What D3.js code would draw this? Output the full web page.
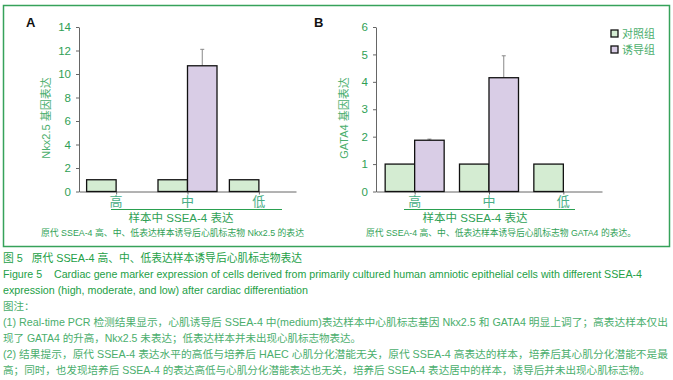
<!DOCTYPE html>
<html lang="zh">
<head>
  <meta charset="UTF-8">
  <title>Figure 5 SSEA-4 Nkx2.5 GATA4</title>
  <script src="https://d3js.org/d3.v7.min.js"></script>
  <style>
    body { margin: 0; background: #fff; }
    svg { display: block; font-family: "Liberation Sans", Arial, "Noto Sans CJK SC", sans-serif; }
    .axis path, .axis line { stroke: #666; }
    .axis text { fill: #2f9f55; font-size: 11.5px; }
    .note { fill: #4aae6c; font-size: 10.5px; white-space: pre; }
    .cap { fill: #23a046; font-size: 11px; white-space: pre; }
  </style>
</head>
<body>
<svg id="chart" width="673" height="380"></svg>
<script>
  // data
  const categories = ["高", "中", "低"];
  const nkxControl = [1, 1, 1];
  const nkxInduced = [0, 10.7, 0];
  const nkxError = [0, 1.4, 0];
  const gataControl = [1, 1, 1];
  const gataInduced = [1.87, 4.15, 0];
  const gataError = [0.04, 0.8, 0];
  const nkxTicks = [0, 2, 4, 6, 8, 10, 12, 14];
  const gataTicks = [0, 1, 2, 3, 4, 5, 6];
  const legendLabels = ["对照组", "诱导组"];

  const controlFill = "#d4ecd2";
  const inducedFill = "#d9cde6";
  const green = "#2f9f55";

  const svg = d3.select("#chart");

  // outer frame
  svg.append("rect")
    .attr("x", 3.5).attr("y", 5.5)
    .attr("width", 666).attr("height", 241)
    .attr("fill", "none").attr("stroke", "#36a25a").attr("stroke-width", 1.5);

  function panel(opt) {
    const g = svg.append("g");
    const y = d3.scaleLinear().domain([0, opt.max]).range([191.5, 27]);
    const x = d3.scalePoint().domain(categories).range([opt.x0, opt.x1]).padding(0.52);
    const bw = 29.5;

    g.append("g").attr("class", "axis")
      .attr("transform", `translate(${opt.x0},0)`)
      .call(d3.axisLeft(y).tickValues(opt.ticks).tickFormat(d3.format("d"))
        .tickSize(3).tickPadding(5).tickSizeOuter(0));
    g.append("g").attr("class", "axis")
      .attr("transform", "translate(0,191.5)")
      .call(d3.axisBottom(x).tickSize(3).tickSizeOuter(0).tickFormat(""));

    categories.forEach((c, i) => {
      g.append("rect")
        .attr("x", x(c) - bw).attr("y", y(opt.control[i]))
        .attr("width", bw).attr("height", y(0) - y(opt.control[i]))
        .attr("fill", controlFill).attr("stroke", "#111").attr("stroke-width", 1.3);
      if (opt.induced[i] > 0) {
        const top = y(opt.induced[i]);
        const et = y(opt.induced[i] + opt.error[i]);
        g.append("line")
          .attr("x1", x(c) + bw / 2).attr("x2", x(c) + bw / 2)
          .attr("y1", top).attr("y2", et)
          .attr("stroke", "#888").attr("stroke-width", 1);
        g.append("line")
          .attr("x1", x(c) + bw / 2 - 2).attr("x2", x(c) + bw / 2 + 2)
          .attr("y1", et).attr("y2", et)
          .attr("stroke", "#888").attr("stroke-width", 1);
        g.append("rect")
          .attr("x", x(c)).attr("y", top)
          .attr("width", bw).attr("height", y(0) - top)
          .attr("fill", inducedFill).attr("stroke", "#111").attr("stroke-width", 1.3);
      }
      g.append("text")
        .attr("x", x(c)).attr("y", 206)
        .attr("text-anchor", "middle")
        .attr("fill", "#4aae86").attr("font-size", "13px")
        .text(c);
    });

    // axis rule under the categories
    g.append("line")
      .attr("x1", opt.u0).attr("x2", opt.u1).attr("y1", 209.5).attr("y2", 209.5)
      .attr("stroke", "#2aa050").attr("stroke-width", 1.2);
    g.append("text")
      .attr("x", opt.mid).attr("y", 221.5).attr("text-anchor", "middle")
      .attr("fill", green).attr("font-size", "11.5px")
      .text("样本中 SSEA-4 表达");
    g.append("text")
      .attr("x", opt.capX).attr("y", 236)
      .attr("fill", green).attr("font-size", "9px")
      .attr("textLength", opt.capW).attr("lengthAdjust", "spacingAndGlyphs")
      .text(opt.caption);

    g.append("text")
      .attr("transform", `translate(${opt.labelX},118) rotate(-90)`)
      .attr("text-anchor", "middle")
      .attr("fill", "#4aae6c").attr("font-size", "11px")
      .text(opt.ylabel);

    g.append("text")
      .attr("x", opt.letterX).attr("y", 27)
      .attr("font-weight", "bold").attr("font-size", "13px").attr("fill", "#111")
      .text(opt.letter);
  }

  panel({
    letter: "A", letterX: 26, x0: 79, x1: 296, max: 14, ticks: nkxTicks,
    control: nkxControl, induced: nkxInduced, error: nkxError,
    u0: 111, u1: 282, mid: 181, labelX: 50, capX: 41, capW: 263,
    ylabel: "Nkx2.5 基因表达",
    caption: "原代 SSEA-4 高、中、低表达样本诱导后心肌标志物 Nkx2.5 的表达"
  });
  panel({
    letter: "B", letterX: 314, x0: 376, x1: 602, max: 6, ticks: gataTicks,
    control: gataControl, induced: gataInduced, error: gataError,
    u0: 404, u1: 575, mid: 475, labelX: 348, capX: 366, capW: 270,
    ylabel: "GATA4 基因表达",
    caption: "原代 SSEA-4 高、中、低表达样本诱导后心肌标志物 GATA4 的表达。"
  });

  // legend
  const lg = svg.append("g");
  legendLabels.forEach((t, i) => {
    lg.append("rect")
      .attr("x", 611).attr("y", 30 + i * 16)
      .attr("width", 7).attr("height", 7)
      .attr("fill", i === 0 ? controlFill : inducedFill)
      .attr("stroke", "#111").attr("stroke-width", 1.3);
    lg.append("text")
      .attr("x", 622).attr("y", 37.5 + i * 16)
      .attr("fill", "#4aae6c").attr("font-size", "11px")
      .text(t);
  });

  // caption and notes below the frame
  const lines = [
    { t: "图 5   原代 SSEA-4 高、中、低表达样本诱导后心肌标志物表达", y: 262, c: "cap", w: 299 },
    { t: "Figure 5    Cardiac gene marker expression of cells derived from primarily cultured human amniotic epithelial cells with different SSEA-4", y: 278, c: "cap", w: 639 },
    { t: "expression (high, moderate, and low) after cardiac differentiation", y: 294, c: "cap", w: 305 },
    { t: "图注：", y: 310, c: "note" },
    { t: "(1) Real-time PCR 检测结果显示，心肌诱导后 SSEA-4 中(medium)表达样本中心肌标志基因 Nkx2.5 和 GATA4 明显上调了；高表达样本仅出", y: 326, c: "note", w: 665 },
    { t: "现了 GATA4 的升高，Nkx2.5 未表达；低表达样本并未出现心肌标志物表达。", y: 342, c: "note", w: 358 },
    { t: "(2) 结果提示，原代 SSEA-4 表达水平的高低与培养后 HAEC 心肌分化潜能无关，原代 SSEA-4 高表达的样本，培养后其心肌分化潜能不是最", y: 358, c: "note", w: 665 },
    { t: "高；同时，也发现培养后 SSEA-4 的表达高低与心肌分化潜能表达也无关，培养后 SSEA-4 表达居中的样本，诱导后并未出现心肌标志物。", y: 374, c: "note", w: 647 }
  ];
  lines.forEach(d => {
    const t = svg.append("text")
      .attr("class", d.c)
      .attr("x", 3).attr("y", d.y)
      .text(d.t);
    if (d.w) t.attr("textLength", d.w).attr("lengthAdjust", "spacingAndGlyphs");
  });
</script>
</body>
</html>
